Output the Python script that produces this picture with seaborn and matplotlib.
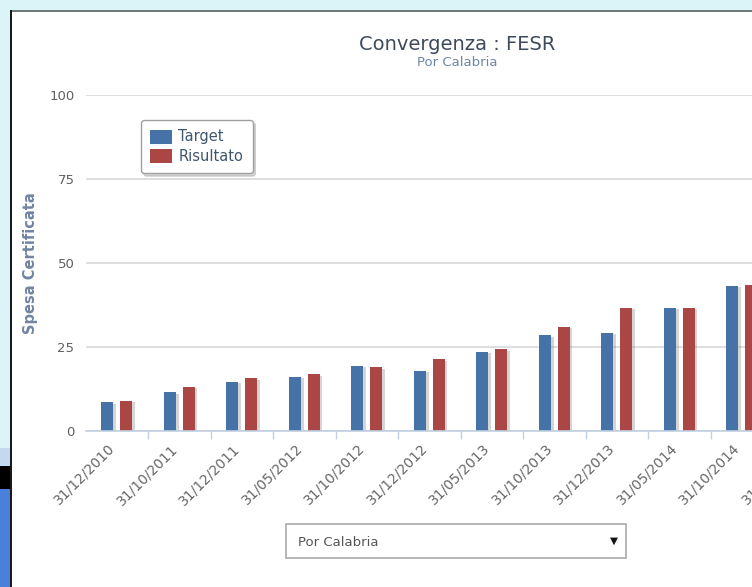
import numpy as np
import pandas as pd
import matplotlib
matplotlib.use("Agg")
import matplotlib.pyplot as plt
import matplotlib.patheffects as pe
import matplotlib.transforms as mtransforms
from matplotlib.patches import Rectangle
import seaborn as sns

categories = ["31/12/2010", "31/10/2011", "31/12/2011", "31/05/2012", "31/10/2012",
              "31/12/2012", "31/05/2013", "31/10/2013", "31/12/2013", "31/05/2014",
              "31/10/2014", "31/12/2014"]
target = [8.5, 11.5, 14.6, 16.1, 19.4, 17.9, 23.6, 28.5, 29.3, 36.7, 43.2, np.nan]
risultato = [8.9, 13.1, 15.7, 16.9, 19.0, 21.3, 24.3, 31.0, 36.7, 36.7, 43.5, np.nan]
series_names = ["Target", "Risultato"]
series_colors = ["#4572A7", "#AA4643"]
y_ticks = [0, 25, 50, 75, 100]

df = pd.DataFrame({
    "Data": categories * 2,
    "Valore": target + risultato,
    "Serie": [series_names[0]] * len(categories) + [series_names[1]] * len(categories),
})

sns.set_theme(style="white")
plt.rcParams["font.family"] = ["DejaVu Sans"]

W, H = 752, 587
fig = plt.figure(figsize=(W / 100, H / 100), dpi=100)
fig.patch.set_facecolor("#dbf4f8")

def fx(x):
    return x / W

def fy(y):
    return 1 - y / H

# page background pieces on the left
bg = [
    ((0, fy(466)), fx(11), (466 - 448) / H, "#c3d9ef"),
    ((0, fy(489)), fx(11), (489 - 466) / H, "#000000"),
    ((0, 0), fx(11), fy(489), "#4a7fdb"),
    ((fx(12), 0), 1, fy(12), "white"),
    ((fx(10), fy(12)), 1, 2 / H, "#6f7b7b"),
    ((fx(10), 0), 2 / W, fy(10), "#1a1a1a"),
]
for xy, w, h, c in bg:
    fig.patches.append(Rectangle(xy, w, h, transform=fig.transFigure,
                                 facecolor=c, edgecolor="none", zorder=-5))

# axes: plot area extends beyond the right edge (cropped screenshot)
cat_w = 62.5
ax_left, ax_top, ax_bottom = 85.5, 95, 431
ax = fig.add_axes([fx(ax_left), fy(ax_bottom), fx(cat_w * len(categories)), (ax_bottom - ax_top) / H])
ax.set_facecolor("none")
ax.set_zorder(3)

sns.barplot(data=df, x="Data", y="Valore", hue="Serie", palette=series_colors,
            width=0.6, gap=0.37, ax=ax, legend=False, saturation=1, errorbar=None)

for p in ax.patches:
    p.set_path_effects([pe.SimplePatchShadow(offset=(2, -1), shadow_rgbFace="#888888", alpha=0.35),
                        pe.Normal()])
    p.set_edgecolor("none")

ax.set_xlim(-0.5, len(categories) - 0.5)
ax.set_ylim(0, 100)
ax.set_yticks(y_ticks)
ax.set_yticklabels([str(v) for v in y_ticks], color="#606060", fontsize=9.5)
ax.yaxis.grid(True, color="#d8d8d8", linewidth=1.2)
ax.set_axisbelow(True)
for s in ["top", "right", "left"]:
    ax.spines[s].set_visible(False)
ax.spines["bottom"].set_color("#c0d0e0")
ax.spines["bottom"].set_linewidth(1.2)
ax.tick_params(axis="y", length=0, pad=8)

ax.set_xticks(range(len(categories)))
ax.set_xticklabels(categories, rotation=45, ha="right", va="center", rotation_mode="anchor",
                   color="#666666", fontsize=10)
ax.tick_params(axis="x", which="major", bottom=True, length=0, pad=11)
shift = mtransforms.ScaledTranslation(-4 / 100, 0, fig.dpi_scale_trans)
for lbl in ax.get_xticklabels():
    lbl.set_transform(lbl.get_transform() + shift)
ax.set_xticks(np.arange(len(categories)) + 0.5, minor=True)
ax.tick_params(axis="x", which="minor", bottom=True, length=6, width=1,
               color="#c0d0e0", direction="out")
ax.set_xlabel("")
ax.set_ylabel("")

# y-axis title
fig.text(fx(31), fy(263), "Spesa Certificata", rotation=90, ha="center", va="center",
         fontsize=10.5, fontweight="bold", color="#7185a0")

# titles
fig.text(fx(457), fy(44), "Convergenza : FESR", ha="center", va="center",
         fontsize=14, color="#3e4b5c")
fig.text(fx(457), fy(63), "Por Calabria", ha="center", va="center",
         fontsize=9.5, color="#6d87a8")

# legend
handles = [plt.Rectangle((0, 0), 1, 1, facecolor=c, edgecolor="none") for c in series_colors]
leg = fig.legend(handles, series_names, loc="upper left",
                 bbox_to_anchor=(fx(141), fy(120)), bbox_transform=fig.transFigure,
                 borderaxespad=0, frameon=True, fontsize=10.5, handlelength=1.45,
                 handleheight=1.1, handletextpad=0.45, labelspacing=0.3, borderpad=0.65,
                 fancybox=True, shadow={"color": "#999999", "alpha": 0.4})
leg.get_frame().set_edgecolor("#a0a0a0")
leg.get_frame().set_linewidth(1.0)
leg.set_zorder(10)
for t in leg.get_texts():
    t.set_color("#3e576f")

# dropdown box
fig.patches.append(Rectangle((fx(286), fy(558)), fx(626 - 286), (558 - 524) / H,
                             transform=fig.transFigure, facecolor="white",
                             edgecolor="#aaaaaa", linewidth=1.2, zorder=2))
fig.text(fx(298), fy(542), "Por Calabria", ha="left", va="center", fontsize=9.5,
         color="#555555", zorder=3)
fig.text(fx(614), fy(541), "▼", ha="center", va="center", fontsize=7.5,
         color="#111111", zorder=3)

fig.savefig("out.png", dpi=100, facecolor=fig.get_facecolor())
